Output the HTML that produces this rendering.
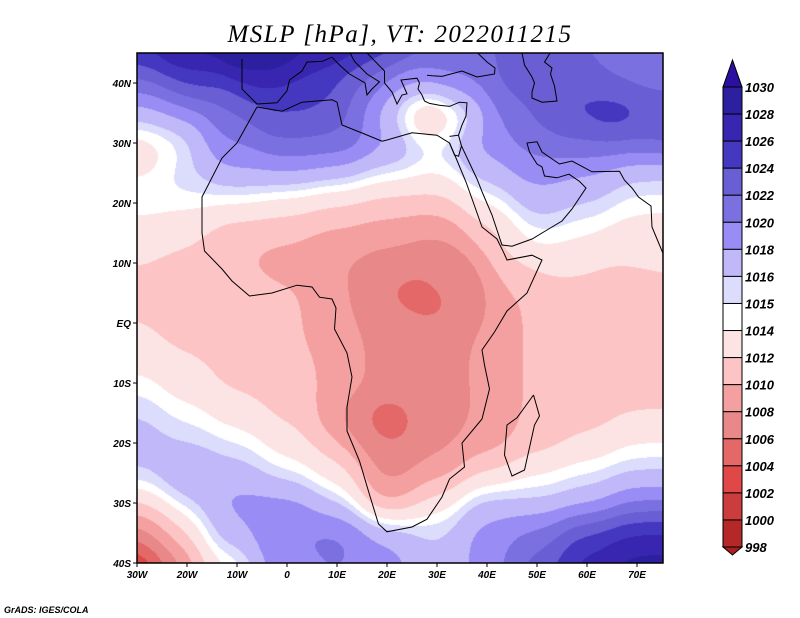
<!DOCTYPE html>
<html><head><meta charset="utf-8">
<style>
html,body{margin:0;padding:0;background:#fff;}
#wrap{position:relative;width:800px;height:618px;overflow:hidden;font-family:"Liberation Sans",sans-serif;}
canvas{position:absolute;left:137px;top:53px;}
svg{position:absolute;left:0;top:0;}
</style></head>
<body>
<div id="wrap">
<canvas id="field" width="526" height="510"></canvas>
<svg id="ov" width="800" height="618"></svg>
</div>
<script>
// ---- data ----
const levels = [998,1000,1002,1004,1006,1008,1010,1012,1014,1015,1016,1018,1020,1022,1024,1026,1028,1030];
const binColors = ["#a82020","#b42828","#cc3c3c","#e04848","#e46868","#e88888","#f5a0a0","#fcc4c4","#fde4e4","#ffffff","#dcdcfc","#c0b8f8","#9a8cf5","#7a70e0","#6a5ed4","#4438c0","#3826b0","#2d20a0","#2a0fa0"];
const lonTicks = [-30,-20,-10,0,10,20,30,40,50,60,70];
const lonLabels = ["30W","20W","10W","0","10E","20E","30E","40E","50E","60E","70E"];
const latTicks = [40,30,20,10,0,-10,-20,-30,-40];
const latLabels = ["40N","30N","20N","10N","EQ","10S","20S","30S","40S"];
const anchorLon = [], anchorLat = [], anchorP = [];
const anchorRows = [
[[-30,46,1026],[-20,46,1029],[-5,46,1031],[10,46,1028],[20,46,1025],[30,46,1022],[40,46,1022],[50,46,1022],[60,46,1022],[70,46,1020],[75,46,1020]],
[[-30,40,1022],[-20,40,1025],[-5,40,1027],[5,40,1026],[15,40,1022],[25,40,1018],[35,40,1020],[45,40,1023],[55,40,1024],[65,40,1022],[75,40,1021]],
[[-30,35,1016],[-22,35,1019],[-10,35,1022],[0,35,1024],[10,35,1023],[20,35,1017],[28,34,1009],[35,35,1015],[45,35,1021],[55,35,1024],[65,35,1026],[75,35,1024]],
[[-28,29,1012],[-22,30,1015],[-12,30,1020],[0,30,1022],[10,30,1022],[20,30,1019],[30,30,1016],[40,30,1019],[50,30,1021],[60,30,1022],[70,30,1022]],
[[-30,25,1014],[-20,25,1016],[-10,25,1018],[0,25,1018],[10,25,1017],[20,25,1015],[30,25,1014],[40,25,1017],[50,25,1019],[60,25,1018],[70,25,1016]],
[[-30,20,1015],[-20,20,1014.5],[-10,20,1014],[0,20,1013],[10,20,1012],[20,20,1011],[30,20,1011],[40,20,1014],[50,20,1017],[60,20,1016],[70,20,1014.5]],
[[-30,15,1013],[-20,15,1012.5],[-10,15,1010.5],[0,15,1010.5],[10,15,1009.5],[20,15,1009],[30,15,1008],[40,15,1011],[50,15,1015],[60,15,1014],[70,15,1013]],
[[-30,10,1012],[-20,10,1011.5],[-10,10,1010],[0,10,1009],[10,10,1008],[20,10,1007],[30,10,1006.5],[35,8,1007],[45,10,1012],[55,10,1013],[65,10,1012],[75,10,1012]],
[[-30,5,1011.5],[-20,5,1011],[-10,5,1011],[0,5,1010.5],[10,5,1008.5],[20,5,1006],[26,5,1005],[32,3,1005],[35,5,1007],[45,5,1010],[55,5,1011],[65,5,1011],[75,5,1012]],
[[-30,0,1012],[-20,0,1011],[-10,0,1011],[0,0,1010.5],[10,0,1008.5],[20,0,1007],[30,0,1006.5],[40,0,1008.5],[50,0,1010.5],[60,0,1011],[70,0,1011]],
[[-30,-5,1013],[-20,-5,1012],[-10,-5,1011],[0,-5,1010.5],[10,-5,1009.5],[20,-5,1007],[30,-5,1007],[40,-5,1008.5],[50,-5,1010.5],[60,-5,1010.5],[70,-5,1011]],
[[-30,-10,1014.5],[-20,-10,1013],[-10,-10,1011.5],[0,-10,1011],[10,-10,1009.5],[20,-10,1007],[30,-10,1007],[40,-10,1008.5],[50,-10,1010.5],[60,-10,1011],[70,-10,1011]],
[[-30,-15,1016],[-20,-15,1014.5],[-10,-15,1013],[0,-15,1011.5],[10,-15,1009.5],[15,-16,1004.5],[21,-17,1004.5],[27,-15,1006.5],[33,-15,1007.5],[40,-15,1008.5],[50,-15,1010.5],[60,-15,1011],[70,-15,1012]],
[[-30,-20,1017],[-20,-20,1016],[-10,-20,1015],[0,-20,1013],[10,-20,1011],[20,-20,1006.5],[30,-20,1007.5],[40,-20,1009],[50,-20,1011],[60,-20,1012.5],[70,-20,1014]],
[[-30,-25,1016],[-20,-25,1018],[-10,-25,1017],[0,-25,1015],[10,-25,1013],[20,-25,1007],[30,-25,1009],[40,-25,1012],[50,-25,1014],[60,-25,1015],[70,-25,1016]],
[[-30,-30,1012],[-20,-30,1016],[-10,-30,1019],[0,-30,1019],[10,-30,1016],[20,-30,1009],[30,-30,1013],[40,-30,1017],[50,-30,1016],[60,-30,1017],[70,-30,1020]],
[[-30,-35,1006],[-22,-35,1011],[-12,-35,1017],[0,-35,1020],[10,-35,1021],[20,-35,1018],[30,-35,1016],[40,-35,1019],[50,-35,1021],[60,-35,1025],[70,-35,1027]],
[[-30,-41,1000],[-22,-41,1008],[-12,-41,1014],[0,-41,1019],[10,-41,1020],[20,-41,1019],[30,-41,1016],[40,-41,1019],[50,-41,1023],[60,-41,1027],[70,-41,1029]]
];
anchorRows.forEach(r=>r.forEach(a=>{anchorLon.push(a[0]);anchorLat.push(a[1]);anchorP.push(a[2]);}));

const africa=[[-6,36],[-10,30],[-13,27.5],[-17,21],[-17,15],[-16.5,12],[-13,9],[-11,7],[-7.5,4.5],[-3,5],[2,6.3],[5,6],[6.5,4.3],[9,4],[9.8,2.5],[9.5,-1],[12,-5],[13,-9],[12,-14],[12,-18],[14.5,-23],[16.5,-28.6],[18.3,-33.5],[20,-34.8],[25,-34],[28,-32.7],[31,-29],[32.5,-26],[35.5,-24],[35,-20],[39,-16],[40.5,-11],[39.5,-7],[39,-4.5],[41.5,-1.5],[44,2],[48,5],[51,10.5],[49,11.3],[44,10.5],[43.3,11.8],[42,14],[39,16],[37.3,20],[35.8,23.5],[33.8,27.5],[32.5,30],[30,31.3],[25,31.7],[20,30.5],[19,30.3],[15.5,31.5],[11,33],[10,36.8],[9,37.2],[3,36.8],[-1,35.3],[-6,36]];
const madagascar=[[49.3,-12],[50.5,-15.5],[49.5,-17],[47.5,-24.5],[45,-25.5],[43.5,-22],[44,-17],[46,-15.8],[48,-13.5],[49.3,-12]];
const asia=[[32.5,31.1],[34.3,31.3],[35,33],[35.8,34.5],[36,36.7],[34.5,36.8],[32.5,36.1],[30.5,36.3],[28.5,36.6],[27.5,37],[27,38],[26.2,39],[26.5,40],[26,40.8],[22.8,40.5],[24,38.2],[23,38],[22,36.5],[21,38.5],[19.5,40],[19.5,42],[16,45]];
const arabia=[[34.3,31.3],[34.9,29.5],[38,24],[39.2,21.5],[41,18],[43,13],[45,12.8],[49,14],[52,15.5],[55,17],[57,19],[59.8,22.5],[58.5,23.6],[56.4,24.8],[54,24.2],[51.5,24.5],[51,26],[50,26.5],[48.5,28.5],[48,30],[50,30.2],[51,28.5],[54.5,26.5],[57,27],[61,25.2],[66.5,25.3],[67.5,23.8],[69,22.5],[70.3,21],[72.8,19.5],[73,16],[74.5,13],[75.5,11]];
const europe=[[-9,44],[-9,39],[-6,36.5],[-2,36.7],[0,38.7],[0.5,40.5],[3,42],[4,43.5],[7,43.6],[9,44.3],[10.5,43],[12.5,41.5],[15.6,40],[16,38],[17,39],[18.5,40.2],[16,41.5],[13.5,43.6],[12.3,45.5]];
const blacksea=[[28,41.3],[29,41.2],[31,41.1],[35,42],[38,41],[41.5,41.5],[41.6,42.5],[40,43.5],[37.5,45.5]];
const caspian=[[47,45],[47.5,43],[49,41],[49.5,40],[49,38.5],[49,37.5],[51,36.8],[54,37],[53.5,39.5],[52.7,41.5],[53,42.5],[51.5,43.5],[53,45.5]];
const redsea=[[32.5,30],[33.5,28],[34.3,27.8],[34.9,29.5]];

// ---- axes ----
const X0=137, Y0=53, W=526, H=510;
function xs(lon){return 137+(lon+30)*5;}
function ys(lat){return 563-(lat+40)*6;}

// ---- field ----
const cv=document.getElementById('field'), ctx=cv.getContext('2d');
const img=ctx.createImageData(W,H);
function hex(c){return [parseInt(c.substr(1,2),16),parseInt(c.substr(3,2),16),parseInt(c.substr(5,2),16)];}
const rgb=binColors.map(hex);
function colIdx(p){let i=0;while(i<levels.length&&p>=levels[i])i++;return i;}
const N=anchorP.length;
const inv2s2=1/(2*3.2*3.2);
for(let py=0;py<H;py++){
  const lat=(563-(py+Y0)-0.5)/6-40;
  for(let px=0;px<W;px++){
    const lon=(px+X0+0.5-137)/5-30;
    let sw=0,sp=0;
    for(let k=0;k<N;k++){
      const dx=(lon-anchorLon[k])*0.7,dy=lat-anchorLat[k];
      const w=Math.exp(-(dx*dx+dy*dy)*inv2s2)+1e-12;
      sw+=w;sp+=w*anchorP[k];
    }
    const c=rgb[colIdx(sp/sw)];
    const o=(py*W+px)*4;
    img.data[o]=c[0];img.data[o+1]=c[1];img.data[o+2]=c[2];img.data[o+3]=255;
  }
}
ctx.putImageData(img,0,0);

// ---- overlay ----
const NS="http://www.w3.org/2000/svg";
const svg=document.getElementById('ov');
function el(t,a,parent){const e=document.createElementNS(NS,t);for(const k in a)e.setAttribute(k,a[k]);(parent||svg).appendChild(e);return e;}
const defs=el('defs',{});
const cp=el('clipPath',{id:'clip'},defs);
el('rect',{x:X0,y:Y0,width:W,height:H},cp);
const coast=el('g',{'clip-path':'url(#clip)',fill:'none',stroke:'#000','stroke-width':'1'});


[africa,madagascar,asia,arabia,europe,blacksea,caspian,redsea].forEach(line=>{
  const p=el('path',{d:line.map((q,i)=>(i?'L':'M')+xs(q[0]).toFixed(1)+','+ys(q[1]).toFixed(1)).join('')},coast);
  
  
});
const frame=el('rect',{x:X0,y:Y0,width:W,height:H,fill:'none',stroke:'#000','stroke-width':'1.5'});


const tstyle='font-family:"Liberation Sans",sans-serif;font-style:italic;font-weight:bold;font-size:10px';
lonTicks.forEach((v,i)=>{
  el('line',{x1:xs(v),x2:xs(v),y1:563,y2:567,stroke:'#000'});
  const t=el('text',{x:xs(v),y:578,'text-anchor':'middle',style:tstyle});
  t.textContent=lonLabels[i];
  
  
});
latTicks.forEach((v,i)=>{
  el('line',{x1:133,x2:137,y1:ys(v),y2:ys(v),stroke:'#000'});
  const t=el('text',{x:131,y:ys(v)+4,'text-anchor':'end',style:tstyle});
  t.textContent=latLabels[i];
  
  
});
// colorbar
const cb=el('g',{});


const cbTop=87, step=27.06, cx0=723, cx1=742;
const nb=levels.length-1;
for(let i=0;i<nb;i++){
  const y=cbTop+i*step;
  const r=el('rect',{x:cx0,y:y,width:cx1-cx0,height:step,fill:binColors[nb-i],stroke:'#000','stroke-width':'1'},cb);
  
  
}
el('polygon',{points:`${cx0},${cbTop} ${cx1},${cbTop} ${(cx0+cx1)/2},60`,fill:binColors[nb+1],stroke:'#000'},cb);
const yb=cbTop+nb*step;
el('polygon',{points:`${cx0},${yb} ${cx1},${yb} ${(cx0+cx1)/2},555`,fill:binColors[0],stroke:'#000'},cb);
for(let i=0;i<=nb;i++){
  const t=el('text',{x:745,y:cbTop+i*step+5,style:'font-family:"Liberation Sans",sans-serif;font-style:italic;font-weight:bold;font-size:13px'},cb);
  t.textContent=levels[nb-i];
  
  
}
const title=el('text',{x:400,y:42,'text-anchor':'middle',style:'font-family:"Liberation Serif",serif;font-style:italic;font-size:25px;letter-spacing:1.5px'});
title.textContent='MSLP [hPa], VT: 2022011215';


const cr=el('text',{x:4,y:613,style:'font-family:"Liberation Sans",sans-serif;font-style:italic;font-weight:bold;font-size:9px'});
cr.textContent='GrADS: IGES/COLA';


</script>
</body></html>
